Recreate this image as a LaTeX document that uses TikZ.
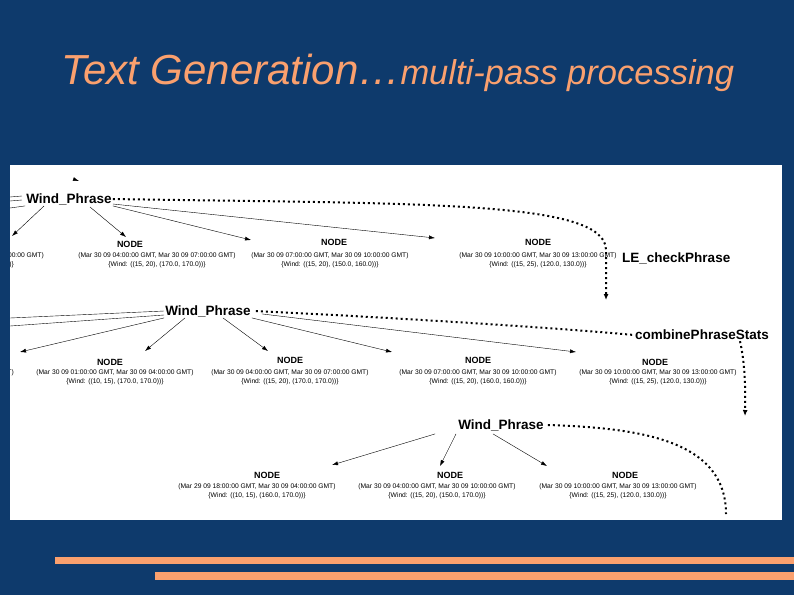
\documentclass[tikz,border=0pt]{standalone}
\usepackage{fontspec}
\setmainfont{Liberation Sans}
\usetikzlibrary{arrows.meta}
\definecolor{bg}{RGB}{14,58,108}
\definecolor{org}{RGB}{250,160,110}
\begin{document}
\begin{tikzpicture}[x=1pt,y=-1pt,
  wp/.style={font=\fontsize{13.5}{13.5}\selectfont\bfseries, inner sep=1pt},
  hd/.style={font=\fontsize{9}{9}\selectfont\bfseries, inner sep=0pt},
  dt/.style={font=\fontsize{6.7}{9}\selectfont, align=center, inner sep=0pt},
  ar/.style={-{Latex[length=6pt,width=4pt]}, line width=0.4pt},
  dl/.style={line width=2pt, dash pattern=on 2pt off 3pt},
  da/.style={dl,-{Latex[length=6pt,width=5pt]}}]
\useasboundingbox (0,0) rectangle (794,595);
\fill[bg] (0,0) rectangle (794,595);
\node[text=org, font=\itshape\fontsize{42}{42}\selectfont, anchor=west, inner sep=0pt] (title) at (61,73)
  {Text Generation…{\fontsize{34.5}{34.5}\selectfont multi-pass processing}};
\fill[org] (55,557) rectangle (794,564);
\fill[org] (155,572) rectangle (794,580);
\fill[white] (10,165) rectangle (782,520);
\begin{scope}
\clip (10,165) rectangle (782,520);
% level 1
\node[wp] (w1) at (69,199) {Wind\_Phrase};
\node[dt, anchor=north east] (a0) at (44,252) {(Mar 30 09 01:00:00 GMT, Mar 30 09 04:00:00 GMT)\\\{Wind: ((10, 15), (170.0, 170.0))\}};
\node[hd] (h1) at (130,244) {NODE};
\node[dt, anchor=north] (a1) at (157,252) {(Mar 30 09 04:00:00 GMT, Mar 30 09 07:00:00 GMT)\\\{Wind: ((15, 20), (170.0, 170.0))\}};
\node[hd] (h2) at (334,242) {NODE};
\node[dt, anchor=north] (a2) at (330,252) {(Mar 30 09 07:00:00 GMT, Mar 30 09 10:00:00 GMT)\\\{Wind: ((15, 20), (150.0, 160.0))\}};
\node[hd] (h3) at (538,242) {NODE};
\node[dt, anchor=north] (a3) at (538,252) {(Mar 30 09 10:00:00 GMT, Mar 30 09 13:00:00 GMT)\\\{Wind: ((15, 25), (120.0, 130.0))\}};
\node[wp, anchor=west] (le) at (621,258) {LE\_checkPhrase};
\coordinate (t1) at (12,236); \coordinate (t2) at (126,237);
\coordinate (t3) at (251,240); \coordinate (t4) at (435,238);
\draw[ar] (44,206) -- (t1);
\draw[ar] (90,207) -- (t2);
\draw[ar] (w1.south east) -- (t3);
\draw[ar] (w1.east)++(0,5) -- (t4);
\coordinate (in1) at (79,181); \draw[ar] (73,179) -- (in1);
\draw (10,197) -- (22,196) (10,201) -- (22,200) (10,208) -- (w1.south west);
\coordinate (e1) at (606,300);
\draw[da] (w1.east) .. controls (420,204) and (606,200) .. (606,250) -- (e1);
% level 2
\node[wp] (w2) at (208,311) {Wind\_Phrase};
\node[dt, anchor=north east] (b0) at (14,369) {(Mar 30 09 01:00:00 GMT, Mar 30 09 04:00:00 GMT)\\\{Wind: ((10, 15), (170.0, 170.0))\}};
\node[hd] (g1) at (110,362) {NODE};
\node[dt, anchor=north] (b1) at (115,369) {(Mar 30 09 01:00:00 GMT, Mar 30 09 04:00:00 GMT)\\\{Wind: ((10, 15), (170.0, 170.0))\}};
\node[hd] (g2) at (290,360) {NODE};
\node[dt, anchor=north] (b2) at (290,369) {(Mar 30 09 04:00:00 GMT, Mar 30 09 07:00:00 GMT)\\\{Wind: ((15, 20), (170.0, 170.0))\}};
\node[hd] (g3) at (478,360) {NODE};
\node[dt, anchor=north] (b3) at (478,369) {(Mar 30 09 07:00:00 GMT, Mar 30 09 10:00:00 GMT)\\\{Wind: ((15, 20), (160.0, 160.0))\}};
\node[hd] (g4) at (655,362) {NODE};
\node[dt, anchor=north] (b4) at (658,369) {(Mar 30 09 10:00:00 GMT, Mar 30 09 13:00:00 GMT)\\\{Wind: ((15, 25), (120.0, 130.0))\}};
\node[wp, anchor=center] (cp) at (702,335) {combinePhraseStats};
\draw (w2.west) -- (10,318) (164,315) -- (10,326);
\coordinate (s1) at (20,352); \coordinate (s2) at (145,351);
\coordinate (s3) at (268,351); \coordinate (s4) at (392,352); \coordinate (s5) at (576,352);
\draw[ar] (w2.south west) -- (s1);
\draw[ar] (w2.south) ++(-23,0) -- (s2);
\draw[ar] (w2.south) ++(15,0) -- (s3);
\draw[ar] (w2.south east) -- (s4);
\draw[ar] (w2.south east) ++(10,-4) -- (s5);
\draw[dl] (w2.east)++(4,0) .. controls (400,318) and (560,328) .. (cp.west);
\coordinate (e2) at (745,416);
\draw[da] (cp.south east)++(-30,0) .. controls (742,350) and (746,370) .. (e2);
% level 3
\node[wp] (w3) at (501,425) {Wind\_Phrase};
\node[hd] (k1) at (267,475) {NODE};
\node[dt, anchor=north] (c1) at (257,483) {(Mar 29 09 18:00:00 GMT, Mar 30 09 04:00:00 GMT)\\\{Wind: ((10, 15), (160.0, 170.0))\}};
\node[hd] (k2) at (450,475) {NODE};
\node[dt, anchor=north] (c2) at (437,483) {(Mar 30 09 04:00:00 GMT, Mar 30 09 10:00:00 GMT)\\\{Wind: ((15, 20), (150.0, 170.0))\}};
\node[hd] (k3) at (625,475) {NODE};
\node[dt, anchor=north] (c3) at (618,483) {(Mar 30 09 10:00:00 GMT, Mar 30 09 13:00:00 GMT)\\\{Wind: ((15, 25), (120.0, 130.0))\}};
\coordinate (u1) at (332,465); \coordinate (u2) at (440,466); \coordinate (u3) at (547,466);
\draw[ar] (w3.south west)++(-22,2) -- (u1);
\draw[ar] (w3.south)++(-45,2) -- (u2);
\draw[ar] (w3.south)++(-8,2) -- (u3);
\coordinate (e3) at (726,514);
\draw[dl] (w3.east)++(3,0) .. controls (640,428) and (726,440) .. (e3);
\end{scope}
\end{tikzpicture}
\end{document}
